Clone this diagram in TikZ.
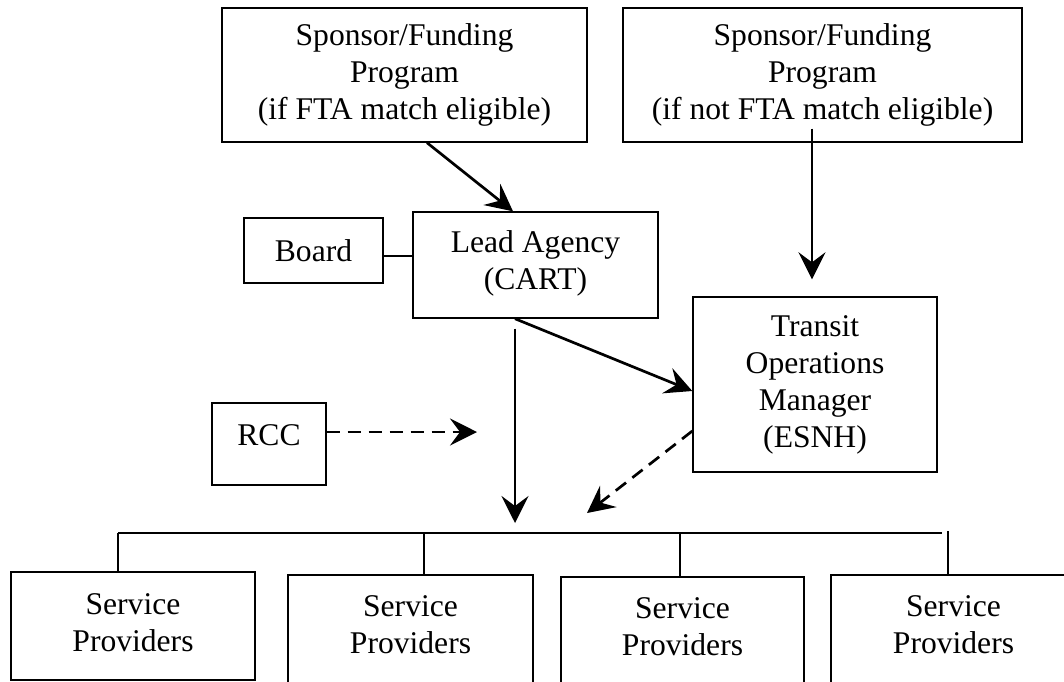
\documentclass[tikz,border=0pt]{standalone}
\usepackage{fontspec}
\setmainfont{Liberation Serif}
\usetikzlibrary{arrows.meta}
\tikzset{
  box/.style={draw, line width=1.4pt, rectangle, inner sep=0pt, align=center,
    font=\fontsize{31.6}{37}\selectfont},
  arr/.style={line width=2.7pt, -{Stealth[length=27pt,width=27pt,inset=10pt]}},
  darr/.style={arr, dash pattern=on 13pt off 8pt},
  thinline/.style={line width=1.4pt},
  busline/.style={line width=2.2pt}
}
\begin{document}
\begin{tikzpicture}[x=1pt,y=-1pt]
\useasboundingbox (0,0) rectangle (1064,681);
\clip (0,0) rectangle (1064,681);
% top boxes
\node[box, minimum width=365pt, minimum height=134pt] (spA) at (404.5,75)
  {Sponsor/Funding\\Program\\(if FTA match eligible)};
\node[box, minimum width=399pt, minimum height=134pt] (spB) at (822.5,75)
  {Sponsor/Funding\\Program\\(if not FTA match eligible)};
% middle
\node[box, minimum width=139pt, minimum height=65pt] (board) at (313.5,250.5) {Board};
\node[box, minimum width=245pt, minimum height=106pt, text depth=10pt] (lead) at (535.5,265)
  {Lead Agency\\(CART)};
\node[box, minimum width=244pt, minimum height=175pt] (tom) at (815,384.5)
  {Transit\\Operations\\Manager\\(ESNH)};
\node[box, minimum width=114pt, minimum height=82pt, text depth=18pt] (rcc) at (269,444) {RCC};
% bottom boxes
\node[box, line width=2.2pt, minimum width=244pt, minimum height=108pt, text depth=6pt] (p1) at (133,626)
  {Service\\Providers};
\node[box, minimum width=245pt, minimum height=108pt, text depth=9pt] (p2) at (410.5,629)
  {Service\\Providers};
\node[box, minimum width=243pt, minimum height=108pt, text depth=9pt] (p3) at (682.5,631)
  {Service\\Providers};
\node[box, minimum width=245pt, minimum height=108pt, text depth=9pt] (p4) at (953.5,629)
  {Service\\Providers};
% coordinates
\coordinate (busL) at (118,533);
\coordinate (busR) at (942,533);
\coordinate (d2) at (424,533);
\coordinate (d3) at (680,533);
\coordinate (d4) at (948,531);
\coordinate (tipV) at (515,523);
\coordinate (tipR) at (477,432);
\coordinate (tipT) at (587,513);
% connectors
\draw[arr] ([xshift=22.5pt]spA.south) -- ([xshift=-22.5pt]lead.north);
\draw[arr] ([xshift=-10.5pt,yshift=14pt]spB.south) -- ([xshift=-3pt,yshift=17pt]tom.north);
\draw[thinline] ([yshift=-5.5pt]board.east) -- ([yshift=-5.5pt]board.east -| lead.west);
\draw[arr] ([xshift=-20.5pt]lead.south) -- ([yshift=-6.5pt]tom.west);
\draw[arr] ([xshift=-20.5pt,yshift=-10pt]lead.south) -- (tipV);
\draw[darr] ([yshift=12pt]rcc.east) -- (tipR);
\draw[darr] ([yshift=-46.5pt]tom.west) -- (tipT);
% bus
\draw[busline] (busL) -- (busR);
\draw[thinline] (busL) -- (busL |- p1.north);
\draw[thinline] (d2) -- (d2 |- p2.north);
\draw[thinline] (d3) -- (d3 |- p3.north);
\draw[thinline] (d4) -- (d4 |- p4.north);
\end{tikzpicture}
\end{document}
